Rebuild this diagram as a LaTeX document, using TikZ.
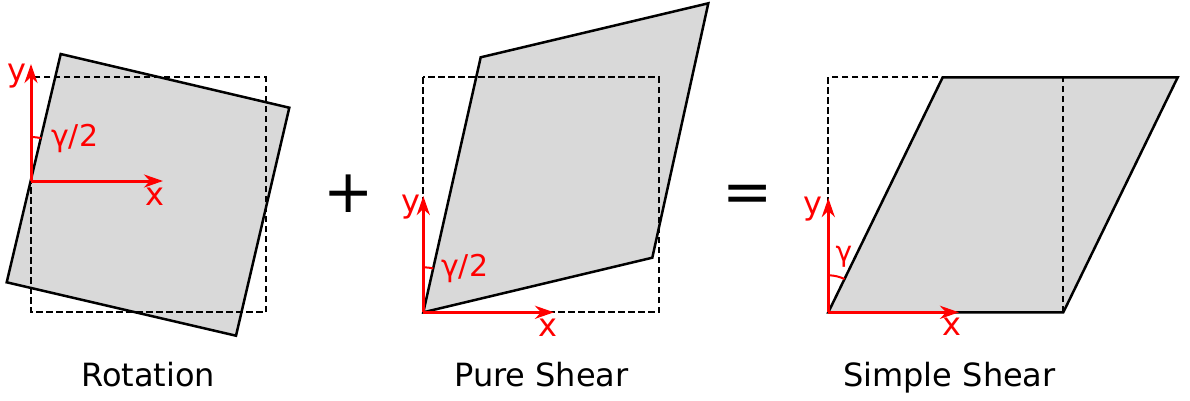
\documentclass[tikz,border=0pt]{standalone}
\usepackage{fontspec}
\setmainfont{DejaVu Sans}
\usetikzlibrary{arrows.meta}
\definecolor{shade}{RGB}{217,217,217}
\begin{document}
\begin{tikzpicture}[x=1pt,y=-1pt,
  shapefill/.style={fill=shade, draw=black, line width=2.5pt, line join=miter},
  refbox/.style={draw=black, line width=2.2pt, dash pattern=on 6.5pt off 3.5pt},
  axis/.style={draw=red, line width=3pt, -{Stealth[length=19pt,width=13pt,inset=6pt]}},
  anglemark/.style={draw=red, line width=2pt},
  axlabel/.style={text=red, font=\fontsize{32}{32}\selectfont, anchor=base, inner sep=0pt},
  anglabel/.style={text=red, font=\fontsize{30}{30}\selectfont, anchor=base west, inner sep=0pt},
  caption/.style={font=\fontsize{32}{32}\selectfont, anchor=base, inner sep=0pt},
  opsign/.style={font=\fontsize{60}{60}\selectfont, anchor=base, inner sep=0pt}]
\useasboundingbox (0,0) rectangle (1190,400);

% ---------- Rotation ----------
\coordinate (r1) at (60.7,54);
\coordinate (r2) at (289.3,107.7);
\coordinate (r3) at (236,335.7);
\coordinate (r4) at (6.7,282.3);
\draw[shapefill] (r1)--(r2)--(r3)--(r4)--cycle;
\coordinate (rb1) at (31,77.3);
\coordinate (rb2) at (265.7,312.3);
\draw[refbox] (rb1) rectangle (rb2);
\coordinate (ro) at (31,181);
\coordinate (ry) at (31,64);
\coordinate (rx) at (163,181);
\draw[axis] (ro) -- (ry);
\draw[axis] (ro) -- (rx);
\draw[anglemark] (ro) ++(-90:44) arc[start angle=-90,end angle=-76.7,radius=44];
\node[axlabel] (rylab) at (17,81.5) {y};
\node[axlabel] (rxlab) at (154.7,205) {x};
\node[anglabel] (rglab) at (51,146.7) {γ/2};
\node[caption] (rcap) at (148.3,386) {Rotation};

\node[opsign] (plus) at (349,212) {+};

% ---------- Pure shear ----------
\coordinate (p1) at (423.3,312.3);
\coordinate (p2) at (480.7,57.3);
\coordinate (p3) at (708.3,3.3);
\coordinate (p4) at (652.3,257.7);
\draw[shapefill] (p1)--(p2)--(p3)--(p4)--cycle;
\coordinate (pb1) at (423.3,77.3);
\coordinate (pb2) at (659,312.3);
\draw[refbox] (pb1) rectangle (pb2);
\coordinate (po) at (423.3,312.3);
\coordinate (py) at (423.3,196);
\coordinate (px) at (554,312.3);
\draw[axis] (po) -- (py);
\draw[axis] (po) -- (px);
\draw[anglemark] (po) ++(-90:45) arc[start angle=-90,end angle=-77.3,radius=45];
\node[axlabel] (pylab) at (410.7,212.5) {y};
\node[axlabel] (pxlab) at (547.5,336) {x};
\node[anglabel] (pglab) at (441,276) {γ/2};
\node[caption] (pcap) at (541.5,386) {Pure Shear};

\node[opsign] (equals) at (748,212) {=};

% ---------- Simple shear ----------
\coordinate (s1) at (828.3,312.3);
\coordinate (s2) at (942.7,77.3);
\coordinate (s3) at (1177.7,77.3);
\coordinate (s4) at (1063.3,312.3);
\draw[shapefill] (s1)--(s2)--(s3)--(s4)--cycle;
\coordinate (sb1) at (828.3,77.3);
\coordinate (sb2) at (1063.3,312.3);
\draw[refbox] (sb1) rectangle (sb2);
\coordinate (so) at (828.3,312.3);
\coordinate (sy) at (828.3,198);
\coordinate (sx) at (959,312.3);
\draw[axis] (so) -- (sy);
\draw[axis] (so) -- (sx);
\draw[anglemark] (so) ++(-90:37) arc[start angle=-90,end angle=-64,radius=37];
\node[axlabel] (sylab) at (813,214.2) {y};
\node[axlabel] (sxlab) at (951.7,335) {x};
\node[axlabel, font=\fontsize{28}{28}\selectfont] (sglab) at (844,261.5) {γ};
\node[caption] (scap) at (949.5,386) {Simple Shear};
\end{tikzpicture}
\end{document}
